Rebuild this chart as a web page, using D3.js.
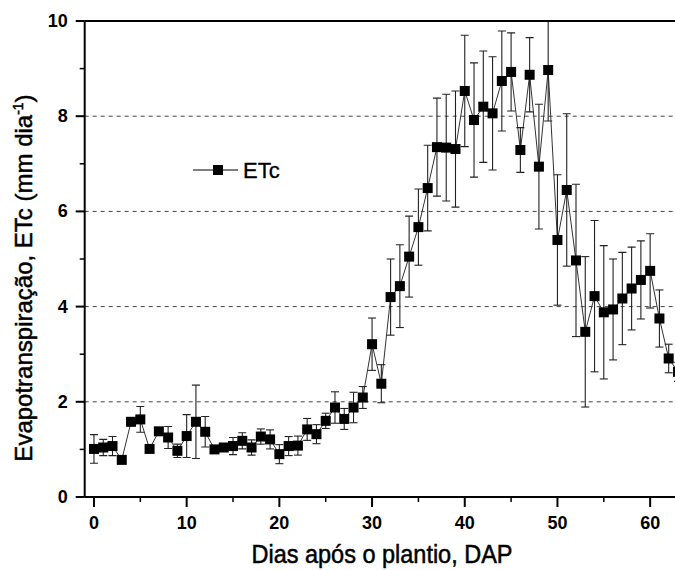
<!DOCTYPE html>
<html><head><meta charset="utf-8">
<script src="https://cdn.jsdelivr.net/npm/d3@7"></script>
<style>body{margin:0;background:#fff}svg{display:block}text{font-family:"Liberation Sans",Arial,sans-serif;fill:#000}</style>
</head><body>
<svg id="chart" width="675" height="570"></svg>
<script>
const days = d3.range(0, 64);
const etc = [1.01,1.04,1.07,0.78,1.58,1.63,1.01,1.38,1.25,0.97,1.28,1.58,1.37,1.00,1.04,1.07,1.18,1.04,1.27,1.21,
  0.90,1.07,1.08,1.42,1.32,1.60,1.88,1.64,1.88,2.09,3.21,2.38,4.20,4.43,5.05,5.67,6.49,7.35,7.34,7.31,
  8.53,7.92,8.20,8.06,8.74,8.93,7.29,8.87,6.94,8.97,5.40,6.45,4.97,3.47,4.22,3.88,3.94,4.17,4.38,4.56,
  4.75,3.75,2.91,2.63];
const sd = [0.30,0.17,0.20,0.05,0.08,0.27,0.05,0.08,0.23,0.14,0.45,0.77,0.32,0.05,0.08,0.18,0.17,0.16,0.16,0.20,
  0.20,0.20,0.20,0.23,0.20,0.16,0.33,0.22,0.32,0.23,0.55,0.40,0.80,0.87,0.85,0.80,0.90,1.03,1.12,1.22,
  1.17,1.20,1.17,1.19,1.05,0.82,0.47,0.78,1.31,1.07,1.37,1.60,1.60,1.58,1.59,1.40,1.06,0.97,0.87,0.82,
  0.78,0.60,0.30,0.20];
const xTicks = [0,10,20,30,40,50,60];
const yTicks = [0,2,4,6,8,10];
const gridValues = [2,4,6,8];

const data = days.map((d,i)=>({d, v:etc[i], s:sd[i]}));
const svg = d3.select("#chart");
const x = d3.scaleLinear().domain([-1,65]).range([84.7,696.5]);
const y = d3.scaleLinear().domain([0,10]).range([497,21]);

svg.append("defs").append("clipPath").attr("id","clip").append("rect")
  .attr("x",x(-1)).attr("y",y(10)).attr("width",700).attr("height",y(0)-y(10));

// grid
svg.append("g").selectAll("line").data(gridValues).join("line")
  .attr("x1",x(-1)).attr("x2",700).attr("y1",d=>y(d)).attr("y2",d=>y(d))
  .attr("stroke","#444").attr("stroke-width",1).attr("stroke-dasharray","4,4");

const plot = svg.append("g").attr("clip-path","url(#clip)");
plot.append("path").datum(data)
  .attr("d", d3.line().x(d=>x(d.d)).y(d=>y(d.v)))
  .attr("fill","none").attr("stroke","#333").attr("stroke-width",1);
const eb = plot.append("g").attr("stroke","#222").attr("stroke-width",1.1);
eb.selectAll("line.v").data(data).join("line").attr("class","v")
  .attr("x1",d=>x(d.d)).attr("x2",d=>x(d.d)).attr("y1",d=>y(d.v+d.s)).attr("y2",d=>y(d.v-d.s));
eb.selectAll("line.t").data(data).join("line").attr("class","t")
  .attr("x1",d=>x(d.d)-4).attr("x2",d=>x(d.d)+4).attr("y1",d=>y(d.v+d.s)).attr("y2",d=>y(d.v+d.s));
eb.selectAll("line.b").data(data).join("line").attr("class","b")
  .attr("x1",d=>x(d.d)-4).attr("x2",d=>x(d.d)+4).attr("y1",d=>y(d.v-d.s)).attr("y2",d=>y(d.v-d.s));
plot.selectAll("rect.m").data(data).join("rect").attr("class","m")
  .attr("x",d=>x(d.d)-5).attr("y",d=>y(d.v)-5).attr("width",10).attr("height",10).attr("fill","#000");

// axes
const xAxis = svg.append("g").attr("transform",`translate(0,${y(0)})`);
xAxis.append("line").attr("x1",x(-1)).attr("x2",700).attr("stroke","#000").attr("stroke-width",2);
xAxis.selectAll("line.mj").data(xTicks).join("line").attr("class","mj")
  .attr("x1",d=>x(d)).attr("x2",d=>x(d)).attr("y1",0).attr("y2",10).attr("stroke","#000").attr("stroke-width",2);
xAxis.selectAll("line.mn").data(xTicks.map(d=>d+5)).join("line").attr("class","mn")
  .attr("x1",d=>x(d)).attr("x2",d=>x(d)).attr("y1",0).attr("y2",5).attr("stroke","#000").attr("stroke-width",1.5);
xAxis.selectAll("text").data(xTicks).join("text")
  .attr("x",d=>x(d)).attr("y",32).attr("text-anchor","middle")
  .attr("font-size",18).attr("font-weight","bold").text(d=>d);

const yAxis = svg.append("g").attr("transform",`translate(${x(-1)},0)`);
yAxis.append("line").attr("y1",y(0)).attr("y2",y(10)).attr("stroke","#000").attr("stroke-width",2);
yAxis.selectAll("line.mj").data(yTicks).join("line").attr("class","mj")
  .attr("y1",d=>y(d)).attr("y2",d=>y(d)).attr("x1",0).attr("x2",-9).attr("stroke","#000").attr("stroke-width",2);
yAxis.selectAll("line.mn").data(yTicks.slice(0,-1).map(d=>d+1)).join("line").attr("class","mn")
  .attr("y1",d=>y(d)).attr("y2",d=>y(d)).attr("x1",0).attr("x2",-5).attr("stroke","#000").attr("stroke-width",1.5);
yAxis.selectAll("text").data(yTicks).join("text")
  .attr("x",-17).attr("y",d=>y(d)+6).attr("text-anchor","end")
  .attr("font-size",18).attr("font-weight","bold").text(d=>d);

svg.append("line").attr("x1",x(-1)).attr("x2",700).attr("y1",y(10)).attr("y2",y(10))
  .attr("stroke","#000").attr("stroke-width",2);

// titles
svg.append("text").attr("x",382).attr("y",563).attr("text-anchor","middle")
  .attr("font-size",25).attr("stroke","#000").attr("stroke-width",0.5)
  .attr("textLength",261).attr("lengthAdjust","spacingAndGlyphs")
  .text("Dias após o plantio, DAP");
const yt = svg.append("text").attr("transform","translate(32,278) rotate(-90)")
  .attr("text-anchor","middle").attr("font-size",24).attr("stroke","#000").attr("stroke-width",0.5);
yt.append("tspan").text("Evapotranspiração, ETc (mm dia");
yt.append("tspan").attr("dy",-9).attr("font-size",14).text("-1");
yt.append("tspan").attr("dy",9).text(")");

// legend
const lg = svg.append("g");
lg.append("line").attr("x1",193).attr("x2",238).attr("y1",170).attr("y2",170).attr("stroke","#000").attr("stroke-width",1.2);
lg.append("rect").attr("x",213).attr("y",165).attr("width",10).attr("height",10).attr("fill","#000");
lg.append("text").attr("x",243).attr("y",178).attr("font-size",22).attr("stroke","#000").attr("stroke-width",0.3).text("ETc");
</script>
</body></html>
